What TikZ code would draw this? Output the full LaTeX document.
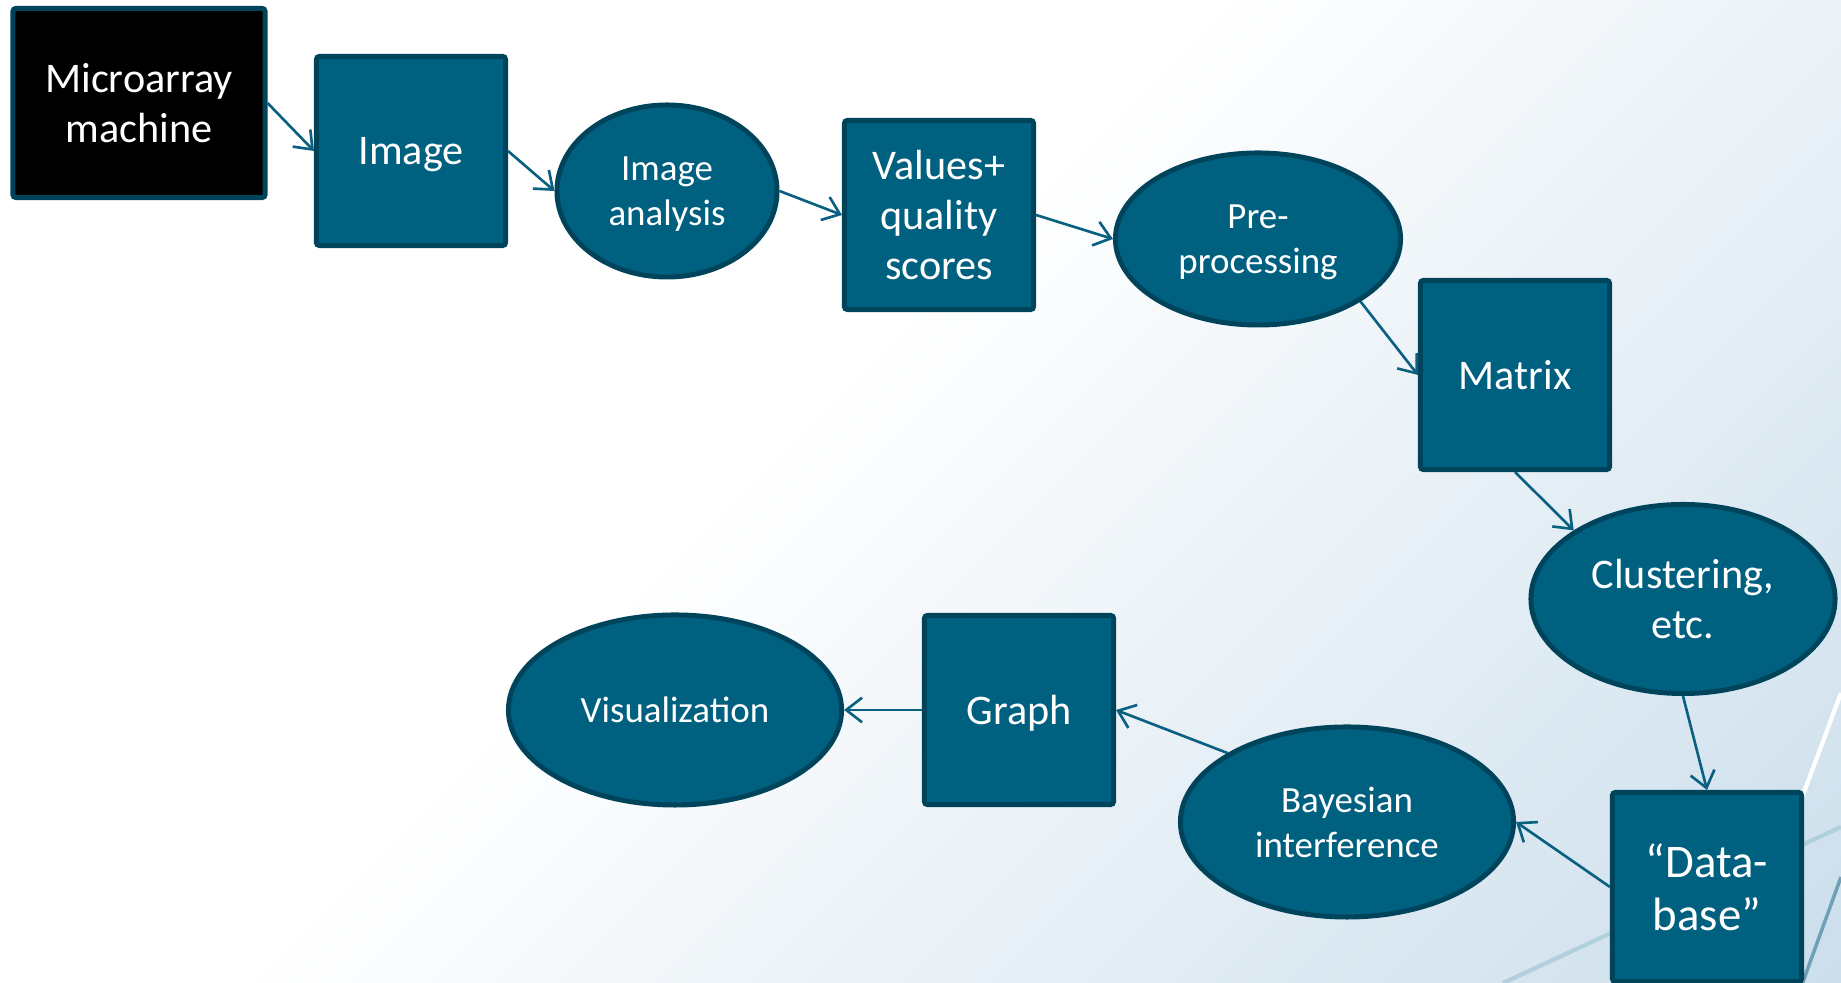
\documentclass[tikz,border=0pt]{standalone}
\usepackage{fontspec}
\setmainfont{Carlito}
\usepackage{tikz}
\usetikzlibrary{shapes.geometric, arrows.meta, positioning}

\definecolor{boxfill}{RGB}{0,96,128}
\definecolor{boxline}{RGB}{0,68,92}
\definecolor{arrowcol}{RGB}{10,96,128}
\definecolor{bgblue}{RGB}{200,220,234}
\definecolor{decoA}{RGB}{176,208,222}
\definecolor{decoB}{RGB}{110,160,182}

\pgfdeclarehorizontalshading{bgshade}{100bp}{color(0bp)=(white); color(45bp)=(white); color(88bp)=(bgblue); color(100bp)=(bgblue)}

\begin{document}
\begin{tikzpicture}[x=0.01cm, y=-0.01cm,
  stepbox/.style={draw=boxline, line width=1.4pt, fill=boxfill, text=white, minimum width=1.89cm, minimum height=1.89cm, align=center, rounded corners=0.8pt, text depth=0pt, font=\fontsize{12}{14.2}\selectfont},
  stepoval/.style={ellipse, draw=boxline, line width=1.4pt, fill=boxfill, text=white, align=center, text depth=0pt, font=\fontsize{10.5}{12.7}\selectfont},
  bigtext/.style={font=\fontsize{12}{14.2}\selectfont},
  flow/.style={draw=arrowcol, line width=0.75pt, -{Straight Barb[length=4.5pt, width=7pt]}}]

%//background, size of the slide
\shade[shading=bgshade, shading angle=-45] (0,0) rectangle (1841,983);
\useasboundingbox (0,0) rectangle (1841,983);

\begin{scope}
\clip (0,0) rectangle (1841,983);
\draw[white, line width=1.2pt] (1841,693) -- (1733,983);
\draw[decoA, line width=1.2pt] (1841,827) -- (1503,983);
\draw[decoB, line width=1pt] (1841,877) -- (1800,990);
\end{scope}

%//top row
\node[stepbox, fill=black, minimum width=2.52cm] (machine) at (139,103) {Microarray\\machine};
\node[stepbox] (image) at (411,151) {Image};
\node[stepoval, minimum width=2.2cm, minimum height=1.72cm] (analysis) at (667,191) {Image\\analysis};
\node[stepbox] (values) at (939,215) {Values+\\quality\\scores};
\node[stepoval, minimum width=2.85cm, minimum height=1.72cm] (prep) at (1258,239) {Pre-\\processing};
\node[stepbox] (matrix) at (1515,375) {Matrix};

%//turning back
\node[stepoval, bigtext, minimum width=3.04cm, minimum height=1.89cm] (cluster) at (1683,599) {Clustering,\\etc.};
\node[stepbox, font=\fontsize{13.3}{15.1}\selectfont] (database) at (1707,887) {“Data-\\base”};
\node[stepoval, minimum width=3.33cm, minimum height=1.9cm] (bayes) at (1347,822) {Bayesian\\interference};
\node[stepbox] (graph) at (1019,710) {Graph};
\node[stepoval, minimum width=3.33cm, minimum height=1.9cm] (vis) at (675,710) {Visualization};

\draw[flow] (machine.east) -- (image.west);
\draw[flow] (image.east) -- (analysis.west);
\draw[flow] (analysis.east) -- (values.west);
\draw[flow] (values.east) -- (prep.west);
\draw[flow] (prep.south east) -- (matrix.west);
\draw[flow] (matrix.south) -- (cluster.north west);
\draw[flow] (cluster.south) -- (database.north);
\draw[flow] (database.west) -- (bayes.east);
\draw[flow] (bayes.north west) -- (graph.east);
\draw[flow] (graph.west) -- (vis.east);
\end{tikzpicture}
\end{document}
